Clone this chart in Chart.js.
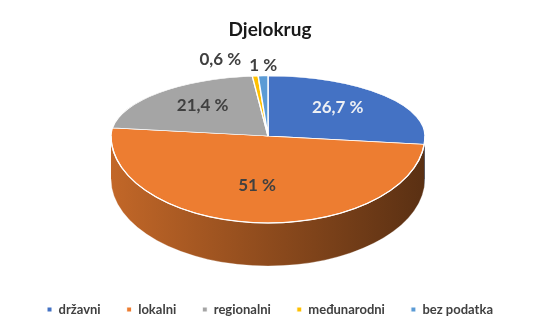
<!DOCTYPE html>
<html>
<head>
<meta charset="utf-8">
<script src="https://cdn.jsdelivr.net/npm/chart.js@4.4.1/dist/chart.umd.min.js"></script>
<style>
  html, body { margin: 0; padding: 0; background: #ffffff; }
  #wrap { width: 540px; height: 332px; }
</style>
</head>
<body>
<div id="wrap"><canvas id="c" width="540" height="332"></canvas></div>
<script>
const chartTitle = 'Djelokrug';
const categories = ['državni', 'lokalni', 'regionalni', 'međunarodni', 'bez podatka'];
const values = [26.7, 51, 21.4, 0.6, 1];
const colors = ['#4472C4', '#ED7D31', '#A5A5A5', '#FFC000', '#5B9BD5'];

const FONT = 'Lato, "Open Sans", "DejaVu Sans", sans-serif';

// geometry of the perspective pie (style / layout only)
// apex = projected centre, ryBack = back half radius, ryFront = front half radius
const GEO = { cx: 268, cy: 136, rx: 157, ryBack: 60, ryFront: 87, depth: 43 };

function fmt(v) { return String(v).replace('.', ',') + ' %'; }

function shade(hex, f) {
  const n = parseInt(hex.slice(1), 16);
  const r = Math.round(((n >> 16) & 255) * f);
  const g = Math.round(((n >> 8) & 255) * f);
  const b = Math.round((n & 255) * f);
  return `rgb(${r},${g},${b})`;
}

function applyFace(chart, ctx, ry) {
  const a0 = chart.getDatasetMeta(0).data[0].getProps(['x', 'y', 'outerRadius'], true);
  ctx.translate(GEO.cx, GEO.cy);
  ctx.scale(GEO.rx / a0.outerRadius, ry / a0.outerRadius);
  ctx.translate(-a0.x, -a0.y);
}

const pie3d = {
  id: 'pie3d',
  beforeDatasetsDraw(chart) {
    const ctx = chart.ctx;
    const meta = chart.getDatasetMeta(0);
    const { cx, cy, rx, ryFront, depth } = GEO;
    // side walls (front half: angles 0..PI)
    meta.data.forEach((arc, i) => {
      const p = arc.getProps(['startAngle', 'endAngle'], true);
      const a = Math.max(p.startAngle, 0);
      const b = Math.min(p.endAngle, Math.PI);
      if (b <= a) return;
      const g = ctx.createLinearGradient(cx - rx, 0, cx + rx, 0);
      g.addColorStop(0, shade(colors[i], 0.82));
      g.addColorStop(0.5, shade(colors[i], 0.6));
      g.addColorStop(1, shade(colors[i], 0.38));
      ctx.save();
      ctx.beginPath();
      ctx.ellipse(cx, cy, rx, ryFront, 0, a, b, false);
      ctx.ellipse(cx, cy + depth, rx, ryFront, 0, b, a, true);
      ctx.closePath();
      ctx.fillStyle = g;
      ctx.fill();
      ctx.restore();
    });
    ctx.save();
    ctx.beginPath();
    ctx.ellipse(cx, cy + depth, rx, ryFront, 0, 0, Math.PI, false);
    ctx.strokeStyle = 'rgba(255,255,255,0.35)';
    ctx.lineWidth = 0.8;
    ctx.stroke();
    ctx.restore();
    // back half of top face (drawn by the library with this transform)
    ctx.save();
    ctx.beginPath();
    ctx.rect(0, 0, chart.width, cy);
    ctx.clip();
    applyFace(chart, ctx, GEO.ryBack);
  },
  afterDatasetsDraw(chart) {
    const ctx = chart.ctx;
    ctx.restore();
    const { cx, cy, rx, ryBack, ryFront } = GEO;
    const meta = chart.getDatasetMeta(0);
    // front half of top face, drawn again by the library's controller
    ctx.save();
    ctx.beginPath();
    ctx.rect(0, cy, chart.width, chart.height - cy);
    ctx.clip();
    applyFace(chart, ctx, ryFront);
    meta.controller.draw();
    ctx.restore();

    // white edge between top face and side
    ctx.save();
    ctx.beginPath();
    ctx.ellipse(cx, cy, rx, ryFront, 0, 0, Math.PI, false);
    ctx.strokeStyle = '#ffffff';
    ctx.lineWidth = 1.2;
    ctx.stroke();
    ctx.restore();

    // data labels
    ctx.save();
    ctx.font = 'bold 17px ' + FONT;
    ctx.textAlign = 'center';
    ctx.textBaseline = 'middle';
    const total = values.reduce((s, v) => s + v, 0);
    const placed = [];
    meta.data.forEach((arc, i) => {
      const p = arc.getProps(['startAngle', 'endAngle'], true);
      const m = (p.startAngle + p.endAngle) / 2;
      const s = Math.sin(m), c = Math.cos(m);
      const txt = fmt(values[i]);
      const frac = values[i] / total;
      let x, y, col;
      if (frac > 0.05) {
        x = cx + rx * 0.6 * c;
        y = s < 0 ? cy + ryBack * 0.7 * s : cy + ryFront * 0.57 * s;
        col = i === 0 ? '#EEF0F4' : '#404040';
      } else {
        x = cx + rx * c;
        y = s < 0 ? cy + ryBack * 1.17 * s : cy + ryFront * 1.17 * s;
        col = '#404040';
      }
      placed.push({ x, y, txt, col, small: frac <= 0.05, w: ctx.measureText(txt).width });
    });
    for (let i = placed.length - 1; i > 0; i--) {
      const cur = placed[i], prev = placed[i - 1];
      if (cur.small && prev.small) {
        const minDx = (cur.w + prev.w) / 2 + 8;
        if (cur.x - prev.x < minDx) { prev.x = cur.x - minDx; prev.y = cur.y - 6; }
      }
    }
    placed.forEach(l => { ctx.fillStyle = l.col; ctx.fillText(l.txt, l.x, l.y); });
    ctx.restore();
  }
};

new Chart(document.getElementById('c'), {
  type: 'pie',
  data: {
    labels: categories,
    datasets: [{
      data: values,
      backgroundColor: colors,
      borderColor: '#ffffff',
      borderWidth: 1,
      clip: false
    }]
  },
  options: {
    responsive: false,
    animation: false,
    rotation: 0,
    layout: { padding: { left: 0, right: 0, top: 0, bottom: 6 } },
    plugins: {
      title: {
        display: true,
        text: chartTitle,
        color: '#1a1a1a',
        font: { family: FONT, size: 19, weight: 'bold' },
        padding: { top: 18, bottom: 10 }
      },
      legend: {
        display: true,
        position: 'bottom',
        labels: {
          boxWidth: 5,
          boxHeight: 5,
          padding: 26,
          color: '#404040',
          font: { family: FONT, size: 13, weight: 'bold' }
        }
      },
      tooltip: { enabled: false }
    }
  },
  plugins: [pie3d]
});
</script>
</body>
</html>
